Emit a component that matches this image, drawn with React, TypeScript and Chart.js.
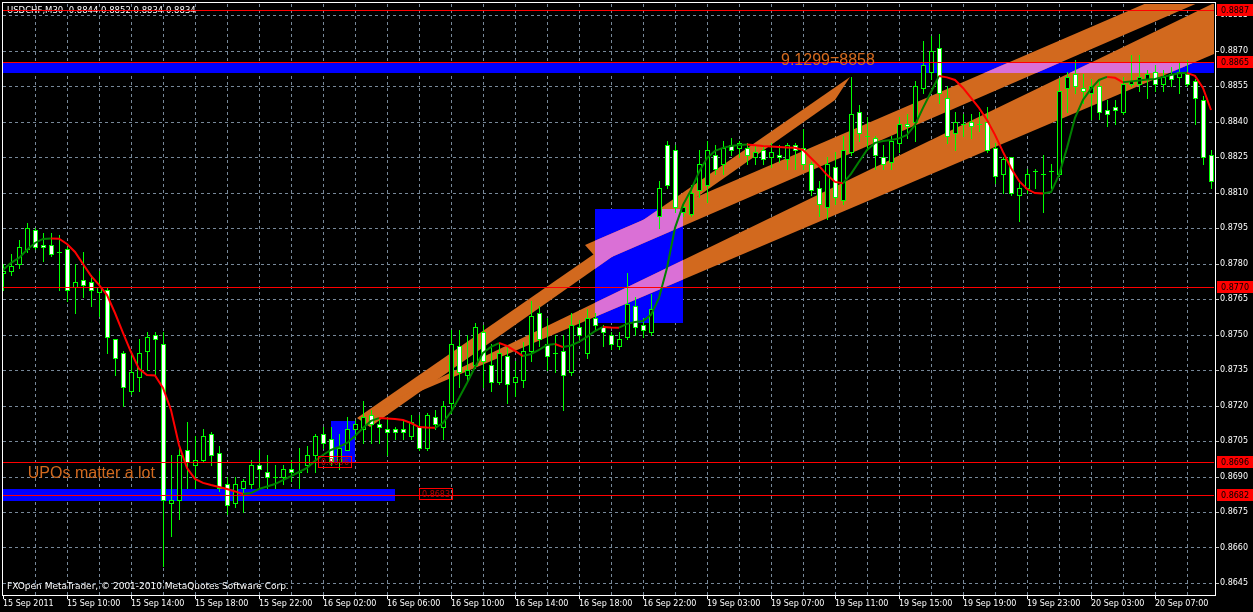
import React, { useEffect, useRef } from "react";
import { Chart, registerables } from "chart.js";

Chart.register(...registerables);

// ---------- data ----------
const timeLabels = [
  "15 Sep 2011", "15 Sep 10:00", "15 Sep 14:00", "15 Sep 18:00", "15 Sep 22:00",
  "16 Sep 02:00", "16 Sep 06:00", "16 Sep 10:00", "16 Sep 14:00", "16 Sep 18:00",
  "16 Sep 22:00", "19 Sep 03:00", "19 Sep 07:00", "19 Sep 11:00", "19 Sep 15:00",
  "19 Sep 19:00", "19 Sep 23:00", "20 Sep 03:00", "20 Sep 07:00",
];
const priceTicks = [
  0.8885, 0.887, 0.8855, 0.884, 0.8825, 0.881, 0.8795, 0.878, 0.8765, 0.875,
  0.8735, 0.872, 0.8705, 0.869, 0.8675, 0.866, 0.8645,
];

const opens = [
  0.8776, 0.8777, 0.878, 0.8786, 0.8794, 0.8788, 0.8788, 0.8785, 0.8786, 0.877,
  0.8773, 0.8772, 0.8768, 0.8769, 0.8748, 0.8742, 0.8726, 0.8732, 0.8743, 0.875,
  0.8746, 0.8679, 0.868, 0.8701, 0.8695, 0.8697, 0.8708, 0.87, 0.8687, 0.8679,
  0.8685, 0.8687, 0.8695, 0.8692, 0.869, 0.869, 0.8693, 0.8692, 0.8695, 0.8699,
  0.8708, 0.8706, 0.8696, 0.8701, 0.871, 0.871, 0.8716, 0.8712, 0.871, 0.871,
  0.871, 0.8707, 0.8711, 0.8702, 0.8715, 0.8711, 0.8721, 0.8745, 0.8733, 0.8737,
  0.8751, 0.8737, 0.873, 0.8741, 0.873, 0.8731, 0.8743, 0.8759, 0.8746, 0.8742,
  0.8743, 0.8734, 0.8753, 0.8742, 0.8757, 0.8753, 0.875, 0.8745, 0.8749, 0.8762,
  0.8754, 0.8751, 0.88, 0.883, 0.8828, 0.8802, 0.8801, 0.8811, 0.8813, 0.8826,
  0.8822, 0.883, 0.8829, 0.8829, 0.8825, 0.8828, 0.8825, 0.8826, 0.8824, 0.883,
  0.8829, 0.8822, 0.8812, 0.8804, 0.8821, 0.8807, 0.8827, 0.8844, 0.8834, 0.8833,
  0.8825, 0.8823, 0.8831, 0.8839, 0.884, 0.8854, 0.8861, 0.8871, 0.885, 0.8835,
  0.8839, 0.884, 0.8839, 0.884, 0.8829, 0.8818, 0.8825, 0.8809, 0.8812, 0.8819,
  0.8818, 0.8819, 0.8818, 0.8854, 0.886, 0.8854, 0.8852, 0.8855, 0.8845, 0.8846,
  0.8844, 0.8856, 0.8856, 0.8858, 0.8861, 0.8856, 0.886, 0.8859, 0.886, 0.8857,
  0.8849, 0.8826,
];
const highs = [
  0.878, 0.8784, 0.879, 0.8797, 0.8795, 0.8793, 0.8793, 0.8792, 0.8787, 0.878,
  0.8785, 0.8775, 0.8777, 0.877, 0.8748, 0.8743, 0.8743, 0.8748, 0.8751, 0.8751,
  0.8751, 0.8699, 0.8703, 0.8713, 0.8707, 0.871, 0.8709, 0.8703, 0.869, 0.869,
  0.8689, 0.8697, 0.8701, 0.8699, 0.8695, 0.8695, 0.8697, 0.8702, 0.8703, 0.8708,
  0.8711, 0.8711, 0.8708, 0.8715, 0.8714, 0.8722, 0.8718, 0.8714, 0.8715, 0.8711,
  0.8714, 0.8716, 0.8716, 0.8717, 0.8718, 0.8722, 0.8752, 0.8752, 0.875, 0.8755,
  0.8754, 0.8746, 0.8746, 0.8745, 0.8739, 0.8747, 0.8764, 0.8762, 0.8757, 0.875,
  0.875, 0.8759, 0.8756, 0.8761, 0.8759, 0.8754, 0.8751, 0.8751, 0.8776, 0.8766,
  0.8757, 0.8767, 0.8815, 0.8832, 0.883, 0.8806, 0.8813, 0.8828, 0.8832, 0.883,
  0.8832, 0.8833, 0.8832, 0.8831, 0.883, 0.883, 0.8831, 0.883, 0.8831, 0.8831,
  0.8837, 0.8823, 0.8815, 0.8825, 0.8827, 0.8834, 0.8859, 0.8847, 0.8842, 0.8834,
  0.883, 0.8834, 0.8842, 0.8843, 0.8857, 0.8874, 0.8876, 0.8877, 0.8855, 0.8844,
  0.8843, 0.8843, 0.8844, 0.8846, 0.8831, 0.8825, 0.8825, 0.8815, 0.882, 0.882,
  0.8826, 0.8822, 0.8858, 0.8861, 0.8866, 0.886, 0.8858, 0.8858, 0.8849, 0.8849,
  0.8859, 0.8868, 0.8868, 0.8862, 0.8864, 0.8862, 0.8863, 0.8865, 0.8866, 0.8858,
  0.8851, 0.8828,
];
const lows = [
  0.8769, 0.8775, 0.8778, 0.8785, 0.8786, 0.8781, 0.8783, 0.8769, 0.8764, 0.8759,
  0.8766, 0.8762, 0.8758, 0.8742, 0.8733, 0.872, 0.8725, 0.8726, 0.8735, 0.8733,
  0.8652, 0.8665, 0.8672, 0.8685, 0.8685, 0.8696, 0.8695, 0.8684, 0.8674, 0.8677,
  0.8675, 0.8685, 0.8685, 0.8685, 0.8685, 0.8687, 0.8688, 0.8685, 0.8692, 0.8692,
  0.8702, 0.8695, 0.8693, 0.8701, 0.8706, 0.8704, 0.8704, 0.8704, 0.8699, 0.8706,
  0.8706, 0.8706, 0.8701, 0.8701, 0.871, 0.8706, 0.8717, 0.8728, 0.8731, 0.8736,
  0.8728, 0.8726, 0.8729, 0.8721, 0.8724, 0.8728, 0.8739, 0.8745, 0.8735, 0.8734,
  0.8718, 0.8733, 0.8748, 0.874, 0.8752, 0.8745, 0.8744, 0.8744, 0.8748, 0.875,
  0.8749, 0.875, 0.8795, 0.8812, 0.8802, 0.88, 0.88, 0.8808, 0.8806, 0.8818,
  0.8818, 0.8826, 0.8825, 0.8822, 0.8822, 0.8822, 0.8821, 0.8823, 0.882, 0.882,
  0.882, 0.8809, 0.88, 0.8799, 0.8805, 0.8805, 0.8826, 0.8832, 0.8828, 0.882,
  0.882, 0.882, 0.8827, 0.8833, 0.8832, 0.8852, 0.8858, 0.8848, 0.8831, 0.8828,
  0.8834, 0.8833, 0.8836, 0.8827, 0.8814, 0.881, 0.8809, 0.8798, 0.881, 0.8812,
  0.8802, 0.8812, 0.8817, 0.8844, 0.8852, 0.8848, 0.8841, 0.8841, 0.8838, 0.8839,
  0.8843, 0.8855, 0.8853, 0.885, 0.8853, 0.8853, 0.8855, 0.8852, 0.8855, 0.8839,
  0.8822, 0.8812,
];
const closes = [
  0.8777, 0.8779, 0.8787, 0.8795, 0.8787, 0.8787, 0.8784, 0.8785, 0.8769, 0.8772,
  0.8771, 0.8769, 0.877, 0.8749, 0.874, 0.8728, 0.8734, 0.8742, 0.8749, 0.8748,
  0.868, 0.868, 0.8699, 0.8696, 0.8697, 0.8707, 0.8699, 0.8685, 0.8678, 0.8687,
  0.8688, 0.8695, 0.8693, 0.869, 0.869, 0.8693, 0.8692, 0.8692, 0.8699, 0.8707,
  0.8704, 0.8696, 0.8702, 0.871, 0.8712, 0.8715, 0.8712, 0.8711, 0.8709, 0.8709,
  0.8709, 0.8713, 0.8702, 0.8716, 0.8712, 0.872, 0.8746, 0.8734, 0.8735, 0.8753,
  0.8739, 0.873, 0.8742, 0.8729, 0.8732, 0.8743, 0.8758, 0.8748, 0.8741, 0.8742,
  0.8733, 0.8754, 0.875, 0.8757, 0.8754, 0.8751, 0.8746, 0.8748, 0.8763, 0.8753,
  0.8752, 0.8761, 0.8812, 0.8813, 0.8804, 0.8804, 0.881, 0.8822, 0.8828, 0.882,
  0.8829, 0.8828, 0.8831, 0.8826, 0.8827, 0.8824, 0.8827, 0.8825, 0.883, 0.8828,
  0.8822, 0.8811, 0.8805, 0.8822, 0.8808, 0.8828, 0.8843, 0.8835, 0.8834, 0.8826,
  0.8822, 0.8832, 0.8839, 0.8838, 0.8855, 0.8864, 0.887, 0.8852, 0.8834, 0.884,
  0.8839, 0.8838, 0.8839, 0.8828, 0.8817, 0.8824, 0.881, 0.8812, 0.8818, 0.8819,
  0.8818, 0.8819, 0.8853, 0.8859, 0.8855, 0.8853, 0.8855, 0.8844, 0.8843, 0.8845,
  0.8856, 0.8857, 0.8859, 0.886, 0.8856, 0.8859, 0.8858, 0.8861, 0.8856, 0.885,
  0.8825, 0.8815,
];
const maLine = [
  0.87773, 0.87803, 0.87824, 0.87858, 0.87887, 0.87904, 0.87906, 0.87905, 0.87883, 0.87849,
  0.87798, 0.87748, 0.8771, 0.87667, 0.87591, 0.87507, 0.87426, 0.87355, 0.87329, 0.87327,
  0.87274, 0.87181, 0.87033, 0.86936, 0.8689, 0.86873, 0.86864, 0.86856, 0.86847, 0.86837,
  0.86826, 0.8683, 0.86847, 0.86858, 0.86868, 0.86885, 0.86902, 0.86919, 0.86936, 0.86966,
  0.86991, 0.87012, 0.87025, 0.87042, 0.87071, 0.87105, 0.87135, 0.87147, 0.87145, 0.87143,
  0.87139, 0.87126, 0.87109, 0.87107, 0.87106, 0.87126, 0.87173, 0.87232, 0.87295, 0.87363,
  0.87422, 0.87448, 0.87464, 0.87452, 0.87431, 0.87409, 0.87418, 0.87435, 0.87456, 0.8746,
  0.87447, 0.87454, 0.87469, 0.8749, 0.87515, 0.87532, 0.8753, 0.87529, 0.87545, 0.87553,
  0.87557, 0.87583, 0.87655, 0.87781, 0.87951, 0.88048, 0.88111, 0.88187, 0.88246, 0.88276,
  0.88289, 0.88297, 0.88301, 0.88303, 0.883, 0.88297, 0.88295, 0.88293, 0.88291, 0.88289,
  0.8828, 0.88246, 0.88213, 0.88175, 0.88145, 0.88139, 0.88179, 0.8823, 0.8828, 0.8831,
  0.88318, 0.88322, 0.88329, 0.88344, 0.88386, 0.88458, 0.88525, 0.88593, 0.88587, 0.88576,
  0.88542, 0.885, 0.88458, 0.88407, 0.88344, 0.88272, 0.88204, 0.88149, 0.88115, 0.88098,
  0.88096, 0.88102, 0.88175, 0.88289, 0.88416, 0.88492, 0.88538, 0.88576, 0.88589, 0.88585,
  0.88566, 0.8857, 0.88574, 0.88578, 0.8858, 0.88589, 0.88597, 0.88604, 0.88606, 0.88593,
  0.88542, 0.88449,
];

const levelPrices = [0.8887, 0.8865, 0.877, 0.8696, 0.8682];
const levelTags = ["0.8887", "0.8865", "0.8770", "0.8696", "0.8682"];

const zoneFrom = [0, 0, 41, 74];
const zoneTo = [160, 49, 44, 85];
const zoneHigh = [0.8865, 0.86847, 0.87133, 0.88031];
const zoneLow = [0.88604, 0.86797, 0.86963, 0.8755];

// channel polygons: [bar index, price]
const channelSteep = [[44.25, 0.87147], [105.875, 0.88588], [104, 0.88491], [45.875, 0.87109]];
const channelUpper = [[72.75, 0.87878], [151.375, 0.89024], [151.375, 0.88931], [74.625, 0.87807]];
const channelLower = [[44.25, 0.87147], [151.375, 0.88901], [151.375, 0.88686]];

const noteTexts = ["9.1299=8858", "UPOs matter a lot"];
const noteIdx = [97.25, 3.1];
const notePrice = [0.88656, 0.86911];

const boxTexts = ["0.8696", "0.8683"];
const boxIdx = [39.4, 52];
const boxPrice = [0.8696, 0.86824];

const titleText = "USDCHF,M30  0.8844 0.8852 0.8834 0.8834";
const footerText = "FXOpen MetaTrader, \u00a9 2001-2010 MetaQuotes Software Corp.";

// ---------- styles ----------
const FONT = "'DejaVu Sans', Verdana, sans-serif";
const NOTE_FONT = "'Liberation Sans', Arial, sans-serif";
const GRID = "#778899";
const LIME = "#00ff00";
const ORANGE = "#d2691e";
const ORCHID = "#da70d6";
const BLUE = "#0000ff";
const RED = "#ff0000";
const MA_UP = "#008000";
const MA_DOWN = "#ff0000";

const mt4Plugin = {
  id: "mt4",
  beforeDraw(chart: any) {
    const { ctx, width, height } = chart;
    ctx.save();
    ctx.fillStyle = "#000";
    ctx.fillRect(0, 0, width, height);
    ctx.restore();
  },
  beforeDatasetsDraw(chart: any) {
    const { ctx, chartArea: ca, scales } = chart;
    const xs = scales.x;
    const ys = scales.y;
    const px = (v: number) => xs.getPixelForValue(v);
    const py = (v: number) => ys.getPixelForValue(v);
    ctx.save();
    ctx.beginPath();
    ctx.rect(ca.left, ca.top, ca.right - ca.left, ca.bottom - ca.top);
    ctx.clip();

    // grid
    ctx.strokeStyle = GRID;
    ctx.lineWidth = 1;
    ctx.setLineDash([3, 3]);
    for (let i = 4; i < 152; i += 4) {
      const x = Math.round(px(i)) + 0.5;
      ctx.beginPath();
      ctx.moveTo(x, ca.top);
      ctx.lineTo(x, ca.bottom);
      ctx.stroke();
    }
    priceTicks.forEach((v) => {
      const y = Math.round(py(v)) + 0.5;
      ctx.beginPath();
      ctx.moveTo(ca.left, y);
      ctx.lineTo(ca.right, y);
      ctx.stroke();
    });
    ctx.setLineDash([]);

    // zones
    ctx.fillStyle = BLUE;
    const zoneRect = (k: number) => {
      const x0 = Math.round(px(zoneFrom[k]));
      const x1 = Math.round(px(zoneTo[k]));
      const y0 = Math.round(py(zoneHigh[k]));
      const y1 = Math.round(py(zoneLow[k]));
      return [x0, y0, x1 - x0, y1 - y0];
    };
    zoneFrom.forEach((_, k) => {
      const r = zoneRect(k);
      ctx.fillRect(r[0], r[1], r[2], r[3]);
    });

    // channels
    const channels = [channelSteep, channelUpper, channelLower];
    const fillChannels = (color: string) => {
      ctx.fillStyle = color;
      channels.forEach((poly) => {
        ctx.beginPath();
        poly.forEach((p, j) => {
          const x = px(p[0]);
          const y = py(p[1]);
          if (j === 0) ctx.moveTo(x, y);
          else ctx.lineTo(x, y);
        });
        ctx.closePath();
        ctx.fill();
      });
    };
    fillChannels(ORANGE);
    ctx.save();
    ctx.beginPath();
    zoneFrom.forEach((_, k) => {
      const r = zoneRect(k);
      ctx.rect(r[0], r[1], r[2], r[3]);
    });
    ctx.clip();
    fillChannels(ORCHID);
    ctx.restore();

    // candles
    for (let i = 0; i < opens.length; i++) {
      const cx = Math.round(px(i));
      const o = opens[i];
      const c = closes[i];
      const yH = Math.round(py(highs[i]));
      const yL = Math.round(py(lows[i]));
      const yT = Math.round(py(Math.max(o, c)));
      const yB = Math.round(py(Math.min(o, c)));
      ctx.fillStyle = LIME;
      ctx.fillRect(cx, yH, 1, yL - yH + 1);
      ctx.fillRect(cx - 2, yT, 5, yB - yT + 1);
      if (yB - yT >= 2) {
        ctx.fillStyle = c >= o ? "#000000" : "#ffffff";
        ctx.fillRect(cx - 1, yT + 1, 3, yB - yT - 1);
      }
    }
    ctx.restore();
  },
  afterDatasetsDraw(chart: any) {
    const { ctx, chartArea: ca, scales } = chart;
    const xs = scales.x;
    const ys = scales.y;
    const px = (v: number) => xs.getPixelForValue(v);
    const py = (v: number) => ys.getPixelForValue(v);
    ctx.save();

    // title
    ctx.font = `8.5px ${FONT}`;
    ctx.fillStyle = "#ffffff";
    ctx.textBaseline = "middle";
    ctx.textAlign = "left";
    ctx.fillText(titleText, 7, 10.5);

    // level lines
    ctx.save();
    ctx.beginPath();
    ctx.rect(ca.left, ca.top, ca.right - ca.left, ca.bottom - ca.top);
    ctx.clip();
    ctx.fillStyle = RED;
    levelPrices.forEach((p) => {
      const y = Math.round(py(p));
      ctx.fillRect(ca.left, y, ca.right - ca.left, 1);
    });

    // notes
    ctx.font = `16px ${NOTE_FONT}`;
    ctx.fillStyle = ORANGE;
    noteTexts.forEach((t, k) => {
      ctx.fillText(t, px(noteIdx[k]), py(notePrice[k]));
    });

    // boxed labels
    ctx.font = `8px ${FONT}`;
    boxTexts.forEach((t, k) => {
      const x = Math.round(px(boxIdx[k]));
      const y = Math.round(py(boxPrice[k]));
      const w = Math.ceil(ctx.measureText(t).width) + 5;
      ctx.strokeStyle = RED;
      ctx.lineWidth = 1;
      ctx.strokeRect(x + 0.5, y - 5.5, w, 11);
      ctx.fillStyle = "#c00000";
      ctx.fillText(t, x + 3, y + 0.5);
    });
    ctx.restore();

    // footer
    ctx.font = `9px ${FONT}`;
    ctx.fillStyle = "#ffffff";
    ctx.fillText(footerText, 7, 587);

    // frame
    ctx.fillStyle = "#ffffff";
    ctx.fillRect(2, 2, 1214, 1);
    ctx.fillRect(2, 595, 1214, 1);
    ctx.fillRect(2, 2, 1, 594);
    ctx.fillRect(1215, 2, 1, 594);

    // axis tick marks
    timeLabels.forEach((_, k) => {
      const x = Math.round(px(k * 8));
      ctx.fillRect(x, 596, 1, 3);
    });
    ctx.fillStyle = "#c0c0c0";
    priceTicks.forEach((v) => {
      const y = Math.round(py(v));
      ctx.fillRect(1216, y, 3, 1);
    });

    // right price tags
    levelPrices.forEach((p, k) => {
      const y = Math.round(py(p));
      ctx.fillStyle = RED;
      ctx.fillRect(1217, y - 6, 36, 12);
      ctx.fillStyle = "#000000";
      ctx.font = `8px ${FONT}`;
      ctx.fillText(levelTags[k], 1221, y + 0.5);
    });
    ctx.restore();
  },
};

export default function App() {
  const ref = useRef<HTMLCanvasElement>(null);
  useEffect(() => {
    document.body.style.margin = "0";
    document.body.style.background = "#000";
    const maData = maLine.map((v, i) => ({ x: i, y: v }));
    const chart = new Chart(ref.current as HTMLCanvasElement, {
      type: "line",
      data: {
        datasets: [
          {
            data: maData,
            borderWidth: 2,
            pointRadius: 0,
            tension: 0,
            borderColor: MA_UP,
            segment: {
              borderColor: (c: any) => (c.p1.parsed.y >= c.p0.parsed.y ? MA_UP : MA_DOWN),
            },
          } as any,
        ],
      },
      options: {
        responsive: false,
        animation: false,
        devicePixelRatio: 1,
        layout: { padding: { left: 3, top: 4, right: 0, bottom: 0 } },
        plugins: { legend: { display: false }, tooltip: { enabled: false } },
        scales: {
          x: {
            type: "linear",
            min: 0,
            max: 151.375,
            grid: { display: false, drawTicks: false, tickLength: 0 },
            border: { display: false },
            afterBuildTicks: (scale: any) => {
              scale.ticks = timeLabels.map((_, k) => ({ value: k * 8 }));
            },
            afterFit: (scale: any) => {
              scale.height = 16;
              scale.paddingLeft = 0;
              scale.paddingRight = 0;
              scale.paddingTop = 0;
              scale.paddingBottom = 0;
            },
            ticks: {
              autoSkip: false,
              maxRotation: 0,
              minRotation: 0,
              align: "start",
              padding: 3,
              color: "#ffffff",
              font: { family: FONT, size: 8 },
              callback: (_v: any, i: number) => timeLabels[i],
            },
          },
          y: {
            type: "linear",
            position: "right",
            min: 0.86395,
            max: 0.88897,
            grid: { display: false, drawTicks: false, tickLength: 0 },
            border: { display: false },
            afterBuildTicks: (scale: any) => {
              scale.ticks = priceTicks.map((v) => ({ value: v }));
            },
            afterFit: (scale: any) => {
              scale.width = 39;
              scale.paddingLeft = 0;
              scale.paddingRight = 0;
              scale.paddingTop = 0;
              scale.paddingBottom = 0;
            },
            ticks: {
              padding: 6,
              color: "#ffffff",
              font: { family: FONT, size: 8 },
              callback: (v: any) => Number(v).toFixed(4),
            },
          },
        },
      },
      plugins: [mt4Plugin],
    });
    return () => chart.destroy();
  }, []);
  return <canvas ref={ref} width={1253} height={612} style={{ display: "block" }} />;
}
